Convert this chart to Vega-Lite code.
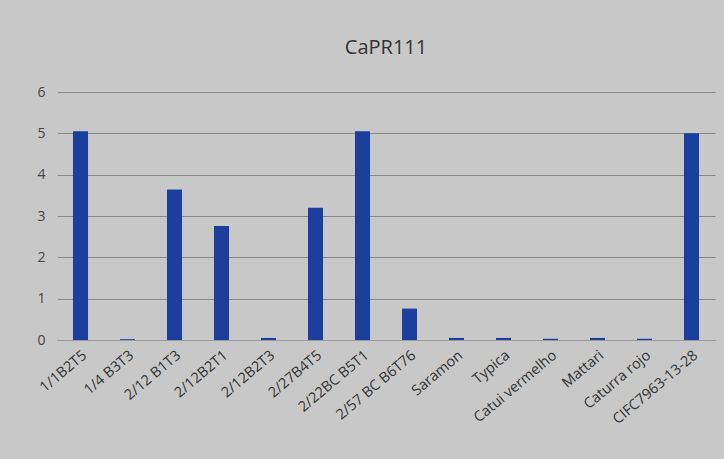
{
  "$schema": "https://vega.github.io/schema/vega-lite/v6.json",
  "width": 658,
  "height": 248,
  "autosize": {"type": "none"},
  "padding": {"left": 57, "top": 92, "right": 9, "bottom": 119},
  "background": "#c8c8c8",
  "title": {
    "text": "CaPR111",
    "font": "Open Sans",
    "fontSize": 20,
    "fontWeight": "normal",
    "color": "#333333",
    "anchor": "middle",
    "offset": 27
  },
  "data": {
    "values": [
      {"genotype": "1/1B2T5", "value": 5.05},
      {"genotype": "1/4 B3T3", "value": 0.02},
      {"genotype": "2/12 B1T3", "value": 3.64},
      {"genotype": "2/12B2T1", "value": 2.76},
      {"genotype": "2/12B2T3", "value": 0.05},
      {"genotype": "2/27B4T5", "value": 3.2},
      {"genotype": "2/22BC B5T1", "value": 5.05},
      {"genotype": "2/57 BC B6T76", "value": 0.76},
      {"genotype": "Saramon", "value": 0.05},
      {"genotype": "Typica", "value": 0.05},
      {"genotype": "Catui vermelho", "value": 0.03},
      {"genotype": "Mattari", "value": 0.05},
      {"genotype": "Caturra rojo", "value": 0.03},
      {"genotype": "CIFC7963-13-28", "value": 5.0}
    ]
  },
  "mark": {"type": "bar", "color": "#1c3f9e"},
  "encoding": {
    "x": {
      "field": "genotype",
      "type": "nominal",
      "sort": null,
      "scale": {"paddingInner": 0.68, "paddingOuter": 0.34},
      "axis": {
        "title": null,
        "labelAngle": -40,
        "labelFont": "Open Sans",
        "labelFontSize": 14.5,
        "labelColor": "#333333",
        "domainColor": "#999999",
        "ticks": false,
        "labelPadding": 8
      }
    },
    "y": {
      "field": "value",
      "type": "quantitative",
      "scale": {"domain": [0, 6]},
      "axis": {
        "title": null,
        "values": [0, 1, 2, 3, 4, 5, 6],
        "labelOverlap": false,
        "labelFont": "Open Sans",
        "labelFontSize": 14,
        "labelColor": "#444444",
        "labelPadding": 12,
        "domain": false,
        "ticks": false,
        "gridColor": "#888888",
        "gridWidth": 1
      }
    }
  },
  "config": {"view": {"stroke": null}}
}
